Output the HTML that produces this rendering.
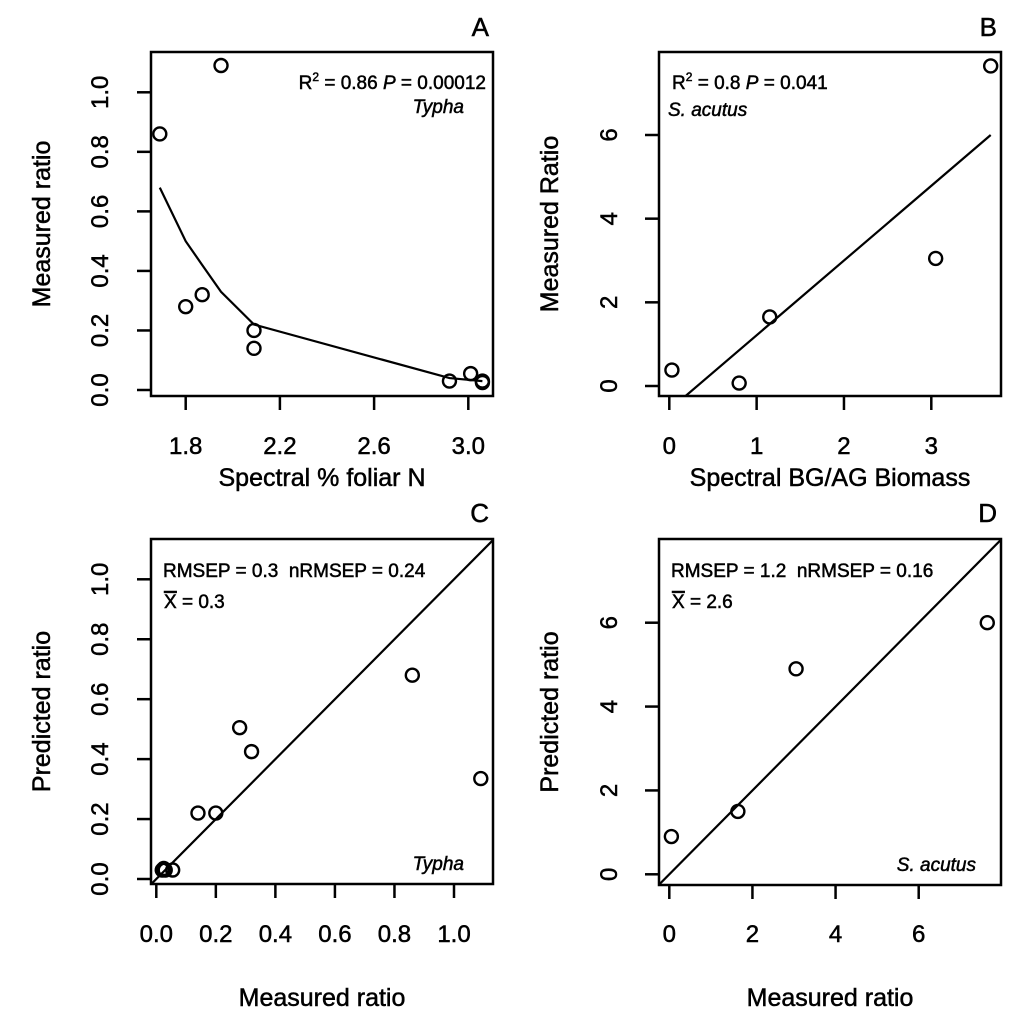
<!DOCTYPE html>
<html><head><meta charset="utf-8">
<style>
html,body{margin:0;padding:0;background:#fff;overflow:hidden;width:1024px;height:1022px;}
svg{display:block;font-family:"Liberation Sans",sans-serif;}
svg text{stroke:#000;stroke-width:0.5px;fill:#000;}
</style></head>
<body>
<svg id="fig" width="1024" height="1022" viewBox="0 0 1024 1022" xmlns="http://www.w3.org/2000/svg"></svg>
<script>
// Panel A data
const aX = [1.69, 1.95, 1.80, 1.87, 2.09, 2.09, 2.92, 3.01, 3.06, 3.06];
const aY = [0.86, 1.09, 0.28, 0.32, 0.20, 0.14, 0.03, 0.055, 0.03, 0.025];
const aFitX = [1.69, 1.80, 1.87, 1.95, 2.09, 2.92, 3.06];
const aFitY = [0.68, 0.50, 0.42, 0.33, 0.22, 0.04, 0.03];
const aXTicks = [1.8, 2.2, 2.6, 3.0];
const aXTickLabels = ["1.8", "2.2", "2.6", "3.0"];
const aYTicks = [0, 0.2, 0.4, 0.6, 0.8, 1.0];
const aYTickLabels = ["0.0", "0.2", "0.4", "0.6", "0.8", "1.0"];
// Panel B data
const bX = [0.03, 0.80, 1.15, 3.05, 3.68];
const bY = [0.38, 0.07, 1.65, 3.05, 7.65];
const bFitX = [0.18, 3.68];
const bFitY = [-0.25, 6.0];
const bXTicks = [0, 1, 2, 3];
const bXTickLabels = ["0", "1", "2", "3"];
const bYTicks = [0, 2, 4, 6];
const bYTickLabels = ["0", "2", "4", "6"];
// Panel C data
const cX = [0.02, 0.03, 0.025, 0.055, 0.14, 0.20, 0.28, 0.32, 0.86, 1.09];
const cY = [0.03, 0.03, 0.035, 0.03, 0.22, 0.22, 0.505, 0.425, 0.68, 0.335];
const cXTicks = [0, 0.2, 0.4, 0.6, 0.8, 1.0];
const cXTickLabels = ["0.0", "0.2", "0.4", "0.6", "0.8", "1.0"];
const cYTicks = [0, 0.2, 0.4, 0.6, 0.8, 1.0];
const cYTickLabels = ["0.0", "0.2", "0.4", "0.6", "0.8", "1.0"];
// Panel D data
const dX = [0.05, 1.65, 3.05, 7.65];
const dY = [0.9, 1.5, 4.9, 6.0];
const dXTicks = [0, 2, 4, 6];
const dXTickLabels = ["0", "2", "4", "6"];
const dYTicks = [0, 2, 4, 6];
const dYTickLabels = ["0", "2", "4", "6"];

const NS = "http://www.w3.org/2000/svg";
const fig = document.getElementById("fig");
function mk(tag, attrs, parent, text){
  const e = document.createElementNS(NS, tag);
  for (const k in attrs) e.setAttribute(k, attrs[k]);
  if (text !== undefined) e.textContent = text;
  (parent || fig).appendChild(e);
  return e;
}
function linScale(v0, p0, v1, p1){ return v => p0 + (v - v0) * (p1 - p0) / (v1 - v0); }

function panel(o){
  const g = mk("g", {});
  
  
  const sx = linScale(o.xv0, o.xp0, o.xv1, o.xp1);
  const sy = linScale(o.yv0, o.yp0, o.yv1, o.yp1);
  const b = o.box;
  const clipId = o.name + "-clip";
  const cp = mk("clipPath", {id: clipId}, g);
  mk("rect", {x: b[0], y: b[1], width: b[2]-b[0], height: b[3]-b[1]}, cp);
  const fr = mk("rect", {x: b[0], y: b[1], width: b[2]-b[0], height: b[3]-b[1], fill: "none", stroke: "#000", "stroke-width": 2.5}, g);
  
  
  o.xTicks.forEach((t, i) => {
    const x = sx(t);
    const tl = mk("line", {x1: x, x2: x, y1: b[3], y2: b[3] + 14, stroke: "#000", "stroke-width": 2.5}, g);
    
    
    const tx = mk("text", {x: x, y: o.xLabY, "text-anchor": "middle", "font-size": 24}, g, o.xTickLabels[i]);
    
    
  });
  o.yTicks.forEach((t, i) => {
    const y = sy(t);
    const tl = mk("line", {x1: b[0] - 14, x2: b[0], y1: y, y2: y, stroke: "#000", "stroke-width": 2.5}, g);
    
    
    const tx = mk("text", {x: 0, y: 0, "text-anchor": "middle", "font-size": 24, transform: `translate(${o.yLabX},${y}) rotate(-90)`}, g, o.yTickLabels[i]);
    
    
  });
  const xt = mk("text", {x: (b[0]+b[2])/2, y: o.xTitleY, "text-anchor": "middle", "font-size": 25}, g, o.xTitle);
  
  
  const yt = mk("text", {x: 0, y: 0, "text-anchor": "middle", "font-size": 25, transform: `translate(${o.yTitleX},${(b[1]+b[3])/2}) rotate(-90)`}, g, o.yTitle);
  
  
  const pl = mk("text", {x: b[2] - 4, y: o.letterY, "text-anchor": "end", "font-size": 26}, g, o.letter);
  
  
  if (o.lineX){
    const d = o.lineX.map((v, i) => (i ? "L" : "M") + sx(v).toFixed(1) + "," + sy(o.lineY[i]).toFixed(1)).join(" ");
    const p = mk("path", {d: d, fill: "none", stroke: "#000", "stroke-width": 2.2, "clip-path": `url(#${clipId})`}, g);
    
    
  }
  if (o.diag){
    const lo = Math.min(o.xv0, o.yv0) - 10, hi = Math.max(o.xv1, o.yv1) + 10;
    const p = mk("line", {x1: sx(lo), y1: sy(lo), x2: sx(hi), y2: sy(hi), stroke: "#000", "stroke-width": 2.2, "clip-path": `url(#${clipId})`}, g);
    
    
  }
  o.px.forEach((v, i) => {
    const c = mk("circle", {cx: sx(v), cy: sy(o.py[i]), r: 6.5, fill: "none", stroke: "#000", "stroke-width": 2.4}, g);
    
    
  });
  o.notes.forEach(n => {
    const t = mk("text", {x: n.x, y: n.y, "text-anchor": n.anchor || "start", "font-size": 19, "font-style": n.italic ? "italic" : "normal"}, g);
    t.innerHTML = n.html;
    
    
  });
}

panel({name:"panel-a", letter:"A", letterY:36, box:[151,52,493,396],
  xv0:1.8, xp0:185.7, xv1:3.0, xp1:468.3, yv0:0, yp0:390, yv1:1.0, yp1:92.3,
  xTicks:aXTicks, xTickLabels:aXTickLabels, yTicks:aYTicks, yTickLabels:aYTickLabels,
  xLabY:454, yLabX:108, xTitle:"Spectral % foliar N", xTitleY:486, yTitle:"Measured ratio", yTitleX:50,
  px:aX, py:aY, lineX:aFitX, lineY:aFitY, lineName:"fit-curve",
  notes:[{x:486,y:89,anchor:"end",name:"stats-annotation",html:'R<tspan dy="-8" font-size="12">2</tspan><tspan dy="8"> = 0.86 </tspan><tspan font-style="italic">P</tspan> = 0.00012'},
         {x:464,y:113,anchor:"end",italic:true,name:"species-label",html:"Typha"}]});

panel({name:"panel-b", letter:"B", letterY:36, box:[659,52,1001,396],
  xv0:0, xp0:669.3, xv1:3, xp1:931.3, yv0:0, yp0:386, yv1:6, yp1:135,
  xTicks:bXTicks, xTickLabels:bXTickLabels, yTicks:bYTicks, yTickLabels:bYTickLabels,
  xLabY:454, yLabX:617, xTitle:"Spectral BG/AG Biomass", xTitleY:486, yTitle:"Measured Ratio", yTitleX:558,
  px:bX, py:bY, lineX:bFitX, lineY:bFitY, lineName:"regression-line",
  notes:[{x:672,y:89,name:"stats-annotation",html:'R<tspan dy="-8" font-size="12">2</tspan><tspan dy="8"> = 0.8 </tspan><tspan font-style="italic">P</tspan> = 0.041'},
         {x:668,y:116,italic:true,name:"species-label",html:"S. acutus"}]});

panel({name:"panel-c", letter:"C", letterY:522, box:[151,539,493,884],
  xv0:0, xp0:156.3, xv1:1.0, xp1:454, yv0:0, yp0:879, yv1:1.0, yp1:579.3,
  xTicks:cXTicks, xTickLabels:cXTickLabels, yTicks:cYTicks, yTickLabels:cYTickLabels,
  xLabY:942, yLabX:108, xTitle:"Measured ratio", xTitleY:1006, yTitle:"Predicted ratio", yTitleX:50,
  px:cX, py:cY, diag:true,
  notes:[{x:163,y:577,name:"rmsep-annotation",html:"RMSEP = 0.3&#160;&#160;nRMSEP = 0.24"},
         {x:164,y:608,name:"mean-annotation",html:'<tspan text-decoration="overline">X</tspan> = 0.3'},
         {x:464,y:870,anchor:"end",italic:true,name:"species-label",html:"Typha"}]});

panel({name:"panel-d", letter:"D", letterY:522, box:[659,539,1001,885],
  xv0:0, xp0:669.3, xv1:6, xp1:918.7, yv0:0, yp0:874.3, yv1:6, yp1:622.7,
  xTicks:dXTicks, xTickLabels:dXTickLabels, yTicks:dYTicks, yTickLabels:dYTickLabels,
  xLabY:942, yLabX:617, xTitle:"Measured ratio", xTitleY:1006, yTitle:"Predicted ratio", yTitleX:558,
  px:dX, py:dY, diag:true,
  notes:[{x:671,y:577,name:"rmsep-annotation",html:"RMSEP = 1.2&#160;&#160;nRMSEP = 0.16"},
         {x:672,y:608,name:"mean-annotation",html:'<tspan text-decoration="overline">X</tspan> = 2.6'},
         {x:976,y:871,anchor:"end",italic:true,name:"species-label",html:"S. acutus"}]});
</script>
</body></html>
